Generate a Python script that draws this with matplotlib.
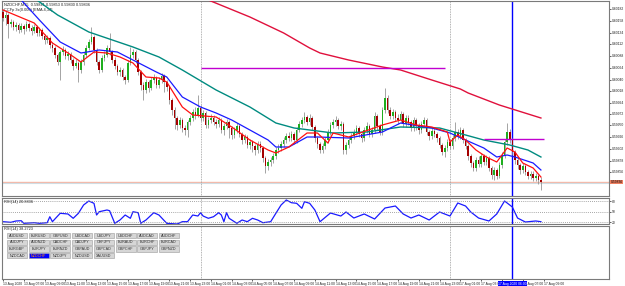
import numpy as np
import matplotlib
matplotlib.use('Agg')
from matplotlib import pyplot as plt
from matplotlib.patches import Rectangle

plt.rcParams['font.family'] = ['Liberation Sans Narrow', 'Liberation Sans', 'DejaVu Sans']

# NZDCHF M15 candles (prices in points, 1 point = 0.00001)
close_pts = [
    60164, 60170, 60152, 60156, 60146, 60150, 60140, 60148, 60142, 60152,
    60144, 60138, 60146, 60134, 60140, 60128, 60120, 60124, 60110, 60104,
    60090, 60076, 60096, 60100, 60088, 60092, 60080, 60068, 60074, 60060,
    60076, 60090, 60104, 60116, 60126, 60100, 60076, 60060, 60084, 60090,
    60104, 60096, 60080, 60068, 60056, 60060, 60046, 60040, 60074, 60090,
    60096, 60080, 60056, 60030, 60020, 60036, 60024, 60040, 60044, 60030,
    60040, 60048, 60036, 60026, 60000, 59980, 59964, 59950, 59960, 59944,
    59940, 59956, 59964, 59976, 59970, 59984, 59964, 59974, 59950, 59960,
    59964, 59956, 59952, 59960, 59940, 59948, 59956, 59944, 59930, 59940,
    59948, 59932, 59920, 59926, 59910, 59916, 59908, 59900, 59912, 59904,
    59884, 59868, 59876, 59880, 59888, 59900, 59904, 59912, 59920, 59928,
    59924, 59932, 59920, 59940, 59952, 59960, 59966, 59956, 59964, 59946,
    59924, 59912, 59900, 59908, 59920, 59936, 59950, 59956, 59960, 59948,
    59952, 59900, 59910, 59920, 59928, 59936, 59944, 59932, 59924, 59940,
    59948, 59932, 59940, 59968, 59948, 59936, 59980, 60004, 59980, 59968,
    59976, 59964, 59960, 59972, 59952, 59964, 59956, 59944, 59960, 59948,
    59940, 59952, 59960, 59936, 59928, 59938, 59932, 59924, 59910, 59896,
    59904, 59916, 59908, 59924, 59936, 59928, 59940, 59920, 59908, 59888,
    59874, 59864, 59880, 59872, 59888, 59876, 59884, 59864, 59850, 59860,
    59848, 59870, 59890, 59916, 59936, 59920, 59896, 59880, 59870, 59860,
    59868, 59856, 59848, 59852, 59844, 59848, 59840, 59836,
]
high_pts = [
    60182, 60178, 60174, 60162, 60160, 60156, 60154, 60154, 60152, 60158,
    60156, 60150, 60152, 60150, 60146, 60144, 60132, 60130, 60128, 60116,
    60108, 60094, 60100, 60108, 60104, 60098, 60096, 60084, 60082, 60078,
    60082, 60096, 60110, 60122, 60146, 60130, 60104, 60080, 60090, 60098,
    60110, 60134, 60100, 60086, 60072, 60066, 60064, 60050, 60080, 60106,
    60102, 60100, 60084, 60060, 60036, 60042, 60040, 60046, 60052, 60048,
    60046, 60054, 60052, 60040, 60030, 60004, 59986, 59968, 59966, 59964,
    59950, 59960, 59970, 59982, 59986, 60010, 59990, 59980, 59978, 59966,
    59972, 59970, 59962, 59966, 59964, 59954, 59962, 59960, 59948, 59946,
    59954, 59952, 59936, 59932, 59930, 59922, 59920, 59912, 59918, 59918,
    59908, 59888, 59882, 59886, 59894, 59906, 59912, 59918, 59926, 59934,
    59936, 59938, 59936, 59946, 59958, 59966, 59976, 59970, 59972, 59968,
    59950, 59928, 59916, 59914, 59926, 59942, 59956, 59962, 59968, 59964,
    59958, 59956, 59916, 59926, 59934, 59942, 59950, 59948, 59936, 59946,
    59956, 59952, 59946, 59976, 59972, 59952, 59986, 60024, 60010, 59986,
    59982, 59980, 59972, 59978, 59976, 59970, 59970, 59960, 59966, 59964,
    59954, 59958, 59966, 59964, 59940, 59944, 59944, 59936, 59928, 59914,
    59910, 59922, 59922, 59930, 59956, 59942, 59946, 59944, 59924, 59912,
    59892, 59878, 59886, 59888, 59894, 59892, 59890, 59888, 59868, 59866,
    59864, 59876, 59896, 59922, 59954, 59942, 59924, 59900, 59886, 59874,
    59874, 59872, 59860, 59858, 59858, 59854, 59852, 59846,
]
low_pts = [
    60158, 60150, 60124, 60146, 60140, 60138, 60134, 60136, 60132, 60138,
    60138, 60130, 60134, 60128, 60128, 60122, 60112, 60114, 60104, 60096,
    60084, 60070, 60040, 60090, 60082, 60080, 60074, 60060, 60064, 60036,
    60054, 60070, 60086, 60100, 60112, 60094, 60070, 60054, 60056, 60078,
    60086, 60090, 60074, 60062, 60050, 60048, 60040, 60032, 60036, 60070,
    60084, 60074, 60050, 60020, 60000, 60014, 60016, 60020, 60034, 60024,
    60024, 60034, 60016, 60018, 59992, 59970, 59942, 59940, 59944, 59936,
    59930, 59926, 59950, 59958, 59962, 59966, 59958, 59958, 59944, 59944,
    59954, 59950, 59944, 59946, 59934, 59930, 59942, 59924, 59922, 59924,
    59934, 59926, 59912, 59914, 59904, 59902, 59896, 59890, 59894, 59896,
    59876, 59854, 59860, 59868, 59874, 59882, 59894, 59898, 59906, 59914,
    59918, 59918, 59912, 59914, 59936, 59946, 59954, 59950, 59950, 59940,
    59916, 59904, 59894, 59894, 59902, 59914, 59930, 59944, 59948, 59942,
    59940, 59892, 59892, 59904, 59914, 59922, 59930, 59926, 59916, 59918,
    59934, 59926, 59926, 59934, 59940, 59930, 59930, 59974, 59974, 59962,
    59962, 59958, 59952, 59954, 59946, 59946, 59950, 59938, 59938, 59940,
    59932, 59934, 59946, 59930, 59920, 59922, 59926, 59916, 59904, 59890,
    59886, 59898, 59902, 59902, 59918, 59922, 59922, 59914, 59902, 59880,
    59866, 59858, 59858, 59866, 59866, 59870, 59870, 59858, 59842, 59840,
    59842, 59844, 59864, 59884, 59910, 59914, 59890, 59872, 59862, 59852,
    59854, 59850, 59842, 59842, 59838, 59838, 59832, 59820,
]
first_open_pts = 60176

# moving averages (bar index, points)
ma_red_idx = [0, 12, 19, 25, 30, 35, 40, 45, 50, 55, 60, 63, 69, 73, 82, 88, 95, 102, 105, 110,
              117, 121, 125, 127, 133, 146, 153, 159, 165, 171, 172, 175, 178, 182, 186, 190,
              192, 194, 197, 200, 204, 207]
ma_red_pts = [60180, 60154, 60114, 60094, 60076, 60096, 60094, 60086, 60074, 60046, 60044, 60036,
              59986, 59970, 59966, 59946, 59920, 59900, 59894, 59906, 59934, 59934, 59914, 59934,
              59926, 59950, 59960, 59950, 59946, 59936, 59916, 59930, 59920, 59900, 59886, 59876,
              59890, 59904, 59896, 59874, 59864, 59846]
ma_blue_idx = [0, 7, 14, 22, 30, 37, 44, 50, 59, 63, 69, 76, 82, 88, 95, 102, 105, 110, 117, 121,
               133, 146, 153, 165, 172, 178, 185, 190, 194, 197, 204, 207]
ma_blue_pts = [60212, 60200, 60160, 60116, 60094, 60100, 60096, 60080, 60056, 60046, 60006, 59986,
               59974, 59960, 59940, 59920, 59906, 59906, 59926, 59926, 59924, 59936, 59954, 59944,
               59934, 59920, 59904, 59886, 59890, 59886, 59874, 59860]
ma_teal_idx = [0, 13, 21, 33, 50, 60, 69, 82, 95, 105, 112, 118, 127, 140, 153, 168, 178, 185,
               191, 195, 202, 207]
ma_teal_pts = [60240, 60200, 60170, 60136, 60106, 60086, 60060, 60020, 59986, 59954, 59944, 59940,
               59934, 59936, 59946, 59944, 59930, 59920, 59914, 59910, 59900, 59886]
ma_slow_idx = [72, 79, 95, 108, 118, 122, 133, 146, 153, 165, 176, 179, 191, 207]
ma_slow_pts = [60214, 60200, 60166, 60134, 60104, 60094, 60080, 60066, 60060, 60040, 60022, 60014,
               59990, 59964]

# oscillator in the lower window
osc_idx = [0, 3, 5, 7, 8, 12, 14, 17, 18, 19, 22, 25, 27, 29, 31, 33, 35, 36, 37, 40, 41, 43, 45,
           47, 49, 50, 52, 53, 55, 58, 60, 63, 67, 69, 71, 73, 75, 76, 77, 79, 81, 83, 84, 85, 86,
           87, 90, 92, 94, 96, 98, 100, 103, 105, 107, 109, 111, 113, 115, 116, 118, 120, 122, 126,
           130, 132, 135, 139, 143, 147, 151, 154, 157, 160, 164, 168, 172, 175, 178, 180, 183, 187,
           190, 193, 196, 198, 201, 205, 207]
osc_val = [20.9, 19.1, 22.9, 23.7, 16.3, 18.0, 16.3, 18.0, 35.1, 20.9, 44.9, 42.9, 30.6, 44.9, 68.6,
           80.0, 73.4, 40.0, 49.4, 54.3, 52.3, 16.3, 25.7, 40.0, 30.6, 49.4, 46.6, 16.3, 25.7, 46.6,
           40.0, 16.3, 14.3, 20.9, 20.9, 40.0, 37.1, 46.6, 37.1, 30.6, 35.1, 46.6, 40.0, 20.9, 46.6,
           30.6, 16.3, 25.7, 20.9, 30.6, 25.7, 18.0, 20.9, 44.9, 68.6, 82.9, 75.1, 73.4, 59.1, 78.0,
           73.4, 54.3, 20.9, 45.7, 37.1, 48.6, 31.4, 42.9, 28.6, 60.0, 65.7, 42.9, 31.4, 40.0, 25.7,
           48.6, 37.1, 74.3, 65.7, 48.6, 31.4, 22.9, 42.9, 80.0, 62.9, 31.4, 20.0, 22.9, 20.9]
osc_levels = [80, 50, 20]

# chart objects
hline_long = (76, 170, 60064)
hline_short = (185, 208, 59922)
day_breaks = [76, 172]
cursor_bar = 196
bid_pts = 59836
ask_pts = 59833

price_ticks_pts = [60182, 60158, 60134, 60112, 60088, 60064, 60040, 60018, 59994, 59972, 59950,
                   59926, 59902, 59878, 59856]

time_idx = [8 * k for k in range(27)]
time_labels = ['13 Aug 2020', '13 Aug 07:00', '13 Aug 09:00', '13 Aug 11:00', '13 Aug 13:00',
               '13 Aug 15:00', '13 Aug 17:00', '13 Aug 19:00', '13 Aug 21:00', '13 Aug 23:00',
               '14 Aug 01:00', '14 Aug 03:00', '14 Aug 05:00', '14 Aug 07:00', '14 Aug 09:00',
               '14 Aug 11:00', '14 Aug 13:00', '14 Aug 15:00', '14 Aug 17:00', '14 Aug 19:00',
               '14 Aug 21:00', '14 Aug 23:00', '17 Aug 01:00', '17 Aug 03:00', '17 Aug 05:00',
               '17 Aug 07:00', '17 Aug 09:00']

symbols = ['AUDUSD', 'EURUSD', 'GBPUSD', 'USDCAD', 'USDJPY', 'USDCHF', 'AUDCAD', 'AUDCHF',
           'AUDJPY', 'AUDNZD', 'CADCHF', 'CADJPY', 'CHFJPY', 'EURAUD', 'EURCHF', 'EURCAD',
           'EURGBP', 'EURJPY', 'EURNZD', 'GBPAUD', 'GBPCAD', 'GBPCHF', 'GBPJPY', 'GBPNZD',
           'NZDCAD', 'NZDCHF', 'NZDJPY', 'NZDUSD', 'XAUUSD']
active_symbol = 'NZDCHF'

P = 1e-5
close = np.array(close_pts) * P
high = np.array(high_pts) * P
low = np.array(low_pts) * P
opn = np.concatenate([[first_open_pts * P], close[:-1]])
idx = np.arange(len(close))

W, H = 625, 286
fig = plt.figure(figsize=(W / 100, H / 100), dpi=100)
fig.patch.set_facecolor('white')


def box(x0, y0, x1, y1):
    # pixel box (top-left origin) -> figure fraction
    return [x0 / W, 1 - y1 / H, (x1 - x0) / W, (y1 - y0) / H]


ax1 = fig.add_axes(box(2, 1, 609, 196))
ax2 = fig.add_axes(box(2, 198, 609, 224), sharex=ax1)
ax3 = fig.add_axes(box(2, 226, 609, 279), sharex=ax1)

lab_fs = 2.4
frame = '#7a7a7a'
for ax in (ax1, ax2, ax3):
    for s in ax.spines.values():
        s.set_color(frame)
        s.set_linewidth(0.8)
    ax.yaxis.tick_right()
    ax.tick_params(axis='y', length=1.5, width=0.5, labelsize=lab_fs, pad=0.6, colors='#202020')
    ax.tick_params(axis='x', length=0, labelbottom=False)
    for b in day_breaks:
        ax.axvline(b, color='#9a9a9a', lw=0.6, ls=(0, (1, 1)))
    ax.axvline(cursor_bar, color='#0000ff', lw=1.0)

ax1.set_xlim(-0.4, 233.2)

# candles
up = close >= opn
ax1.vlines(idx, low, high, color='#8c8c8c', lw=0.55, zorder=2)
body = np.where(np.abs(close - opn) < 0.5 * P, 0.6 * P, close - opn)
ax1.bar(idx[up], body[up], bottom=opn[up], width=0.6, color='#1fae1f', lw=0, zorder=3)
ax1.bar(idx[~up], body[~up], bottom=opn[~up], width=0.6, color='#a50000', lw=0, zorder=3)

ax1.plot(ma_slow_idx, np.array(ma_slow_pts) * P, color='#e0103c', lw=1.0, zorder=4)
ax1.plot(ma_teal_idx, np.array(ma_teal_pts) * P, color='#008b80', lw=1.0, zorder=4)
ax1.plot(ma_blue_idx, np.array(ma_blue_pts) * P, color='#1a1aff', lw=0.9, zorder=5)
ax1.plot(ma_red_idx, np.array(ma_red_pts) * P, color='#ff1010', lw=0.9, zorder=6)

ax1.hlines(hline_long[2] * P, hline_long[0], hline_long[1], color='#c000d0', lw=1.0, zorder=4)
ax1.hlines(hline_short[2] * P, hline_short[0], hline_short[1], color='#c000d0', lw=1.0, zorder=4)
ax1.axhline(bid_pts * P, color='#f5b8a8', lw=1.0, zorder=1)
ax1.axhline(ask_pts * P, color='#d0dde4', lw=0.8, zorder=1)

ax1.set_ylim(0.59808, 0.60198)
ax1.set_yticks(np.array(price_ticks_pts) * P)
ax1.set_yticklabels(['%.5f' % (v * P) for v in price_ticks_pts])
ax1.annotate('%.5f' % (bid_pts * P), xy=(1.0, bid_pts * P), xycoords=('axes fraction', 'data'),
             xytext=(1.0, 0), textcoords='offset points', fontsize=lab_fs, va='center', ha='left',
             color='black', bbox=dict(boxstyle='square,pad=0.12', fc='#f08060', ec='none'))

ax1.text(0.004, 0.992, 'NZDCHF,M15  0.59841 0.59853 0.59830 0.59836', transform=ax1.transAxes,
         fontsize=2.8, va='top', ha='left', color='#202020')
ax1.text(0.004, 0.962, 'CCFp 3x(0.000) [EMA 4,34]', transform=ax1.transAxes,
         fontsize=2.8, va='top', ha='left', color='#202020')

# oscillator window
ax2.plot(osc_idx, osc_val, color='#1a1aff', lw=0.9)
for lv in osc_levels:
    ax2.axhline(lv, color='#8a8a8a', lw=0.6, ls=(0, (1, 1.5)))
ax2.set_ylim(14.3, 88.6)
ax2.set_yticks(osc_levels)
ax2.set_yticklabels([str(v) for v in osc_levels])
ax2.text(0.004, 0.93, 'RSI(14) 20.8836', transform=ax2.transAxes, fontsize=2.8, va='top',
         ha='left', color='#202020')

# third window with symbol buttons
ax3.set_ylim(0, 100)
ax3.set_yticks([])
ax3.text(0.004, 0.985, 'RSI(14) 38.2723', transform=ax3.transAxes, fontsize=2.8, va='top',
         ha='left', color='#202020')
for n, sym in enumerate(symbols):
    r, c = divmod(n, 8)
    x0 = 7 + 21.7 * c
    y0 = 233 + 6.7 * r
    on = sym == active_symbol
    fig.add_artist(Rectangle((x0 / W, 1 - (y0 + 5.2) / H), 20 / W, 5.2 / H,
                             transform=fig.transFigure,
                             fc='#0000ff' if on else '#d6d6d6',
                             ec='#9a9a9a', lw=0.4))
    fig.text((x0 + 10) / W, 1 - (y0 + 2.7) / H, sym, fontsize=2.7, ha='center', va='center',
             color='#ff8c00' if on else '#303030')

# time axis
ax3.set_xticks(time_idx)
ax3.set_xticklabels(time_labels)
ax3.tick_params(axis='x', length=1.5, width=0.5, labelbottom=True, labelsize=lab_fs, pad=0.6,
                colors='#202020')
for lab in ax3.get_xticklabels():
    lab.set_ha('left')
ax3.annotate('17 Aug 2020 06:00', xy=(cursor_bar, 0), xycoords=('data', 'axes fraction'),
             xytext=(0, -1.9), textcoords='offset points', fontsize=lab_fs, ha='center', va='top',
             color='white', zorder=10,
             bbox=dict(boxstyle='square,pad=0.15', fc='#0000ff', ec='none'))

fig.savefig('out.png', dpi=100, facecolor='white')
